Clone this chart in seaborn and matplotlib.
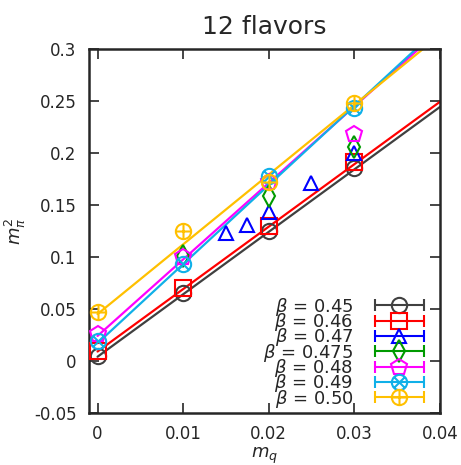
import numpy as np
import seaborn as sns
import matplotlib
matplotlib.use('Agg')
import matplotlib.pyplot as plt
from matplotlib.path import Path
from matplotlib.container import ErrorbarContainer
from matplotlib.legend_handler import HandlerErrorbar

### DATA
betas = ['0.45', '0.46', '0.47', '0.475', '0.48', '0.49', '0.50']
colors = ['#404040', '#ff0000', '#0000ff', '#009a00', '#ff00ff', '#10b0e8', '#ffc000']

mq_045 = [0, 0.01, 0.02, 0.03]
mpi2_045 = [0.005, 0.065, 0.125, 0.185]
mq_046 = [0, 0.01, 0.02, 0.03]
mpi2_046 = [0.010, 0.070, 0.130, 0.191]
mq_047 = [0.015, 0.0175, 0.02, 0.025, 0.03]
mpi2_047 = [0.123, 0.131, 0.143, 0.171, 0.200]
mq_0475 = [0.01, 0.02, 0.03]
mpi2_0475 = [0.101, 0.159, 0.206]
mq_048 = [0, 0.01, 0.02, 0.03]
mpi2_048 = [0.026, 0.100, 0.172, 0.218]
mq_049 = [0, 0.01, 0.02, 0.03]
mpi2_049 = [0.019, 0.093, 0.178, 0.243]
mq_050 = [0, 0.01, 0.02, 0.03]
mpi2_050 = [0.047, 0.125, 0.172, 0.248]

# linear fit lines, end points at mq = 0 and mq = 0.04 (none for 0.47, 0.475)
fit_x = [0, 0.04]
fit_045 = [0.004, 0.244]
fit_046 = [0.009, 0.249]
fit_048 = [0.024, 0.318]
fit_049 = [0.017, 0.321]
fit_050 = [0.045, 0.313]

points = [(mq_045, mpi2_045), (mq_046, mpi2_046), (mq_047, mpi2_047),
          (mq_0475, mpi2_0475), (mq_048, mpi2_048), (mq_049, mpi2_049),
          (mq_050, mpi2_050)]
fits = [fit_045, fit_046, None, None, fit_048, fit_049, fit_050]


def circle_with(lines):
    '''gnuplot style circle with a cross / plus inside'''
    parts = [Path.unit_circle()]
    for (x0, y0), (x1, y1) in lines:
        parts.append(Path([[x0, y0], [x1, y1]], [Path.MOVETO, Path.LINETO]))
    return Path.make_compound_path(*parts)


d = np.sqrt(0.5)
otimes = circle_with([((-d, -d), (d, d)), ((-d, d), (d, -d))])
oplus = circle_with([((-1, 0), (1, 0)), ((0, -1), (0, 1))])
markers = ['o', 's', '^', 'd', 'p', otimes, oplus]
msizes = [11, 11, 10, 11, 12, 11, 11]

sns.set_style('ticks')
plt.rcParams['font.family'] = ['DejaVu Sans']
plt.rcParams['mathtext.fontset'] = 'dejavusans'

fig = plt.figure(figsize=(4.61, 4.65), dpi=100)
ax = fig.add_axes([0.193, 0.112, 0.761, 0.783])

handles = []
for i, b in enumerate(betas):
    c = colors[i]
    if fits[i] is not None:
        sns.lineplot(x=fit_x, y=fits[i], color=c, lw=1.6, ax=ax, zorder=2)
    x, y = points[i]
    ax.plot(x, y, ls='none', marker=markers[i], ms=msizes[i], mfc='none', mec=c, mew=1.5, zorder=3)
    # proxy for legend: marker with horizontal error bar
    eb = ax.errorbar([np.nan], [np.nan], xerr=[1], marker=markers[i], ls='none', ms=msizes[i],
                     mfc='none', mec=c, mew=1.5, color=c, ecolor=c, elinewidth=1.5,
                     capsize=4, capthick=1.5)
    handles.append(eb)

labels = [r'$\beta$ = ' + b for b in betas]
ax.legend(handles, labels, loc='lower right', frameon=False, markerfirst=False,
          fontsize=13, labelspacing=-0.37, handlelength=2.9, handletextpad=1.1,
          borderaxespad=0.0, bbox_to_anchor=(0.98, -0.011),
          handler_map={ErrorbarContainer: HandlerErrorbar(xerr_size=1.35)})

ax.set_xlim(-0.001, 0.04)
ax.set_ylim(-0.05, 0.3)
ax.set_xticks([0, 0.01, 0.02, 0.03, 0.04])
ax.set_xticklabels(['0', '0.01', '0.02', '0.03', '0.04'])
ax.set_yticks(np.arange(-0.05, 0.31, 0.05))
ax.set_yticklabels(['-0.05', '0', '0.05', '0.1', '0.15', '0.2', '0.25', '0.3'])
ax.tick_params(direction='in', length=7, width=1.2, top=True, right=True, labelsize=12, pad=9)
for s in ax.spines.values():
    s.set_linewidth(1.8)

ax.set_xlabel(r'$m_q$', fontsize=13, labelpad=2)
ax.set_ylabel(r'$m_\pi^2$', fontsize=13, labelpad=4)
ax.set_title('12 flavors', fontsize=18, pad=11)

plt.savefig('out.png', dpi=100)
